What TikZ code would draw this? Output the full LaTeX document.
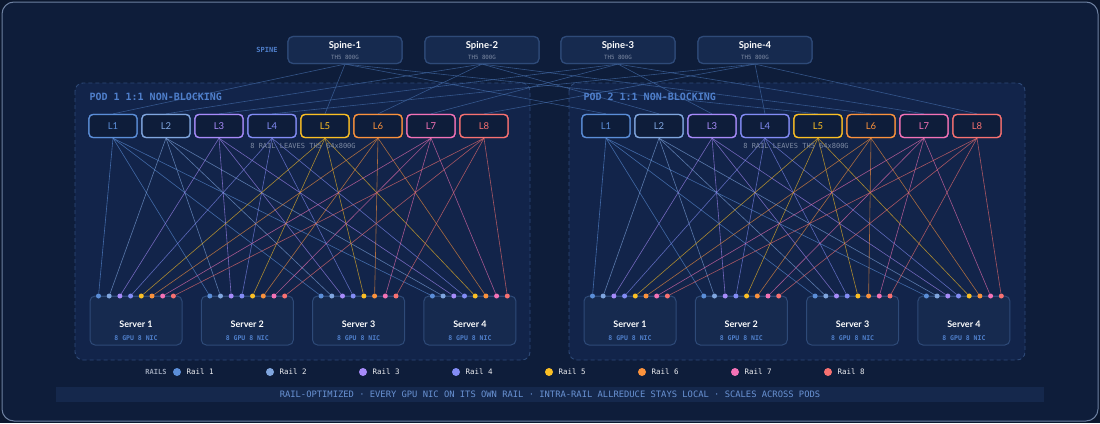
\documentclass[tikz,border=0pt]{standalone}
\usepackage{fontspec}
\setmainfont{Lato}
\newfontfamily\monof{DejaVu Sans Mono}
\begin{document}
\definecolor{bgc}{HTML}{0E1D3A}
\definecolor{podc}{HTML}{12244A}
\definecolor{edgec}{HTML}{2E4A78}
\definecolor{boxc}{HTML}{162A4F}
\definecolor{lblc}{HTML}{4F7FCB}
\definecolor{grayt}{HTML}{7D8AA3}
\definecolor{rA}{HTML}{5B8ED8}
\definecolor{rB}{HTML}{80A6DF}
\definecolor{rC}{HTML}{A78BFA}
\definecolor{rD}{HTML}{838CF5}
\definecolor{rE}{HTML}{FBBF24}
\definecolor{rF}{HTML}{FB923C}
\definecolor{rG}{HTML}{F472B6}
\definecolor{rH}{HTML}{F87171}
\begin{tikzpicture}[x=1pt,y=-1pt,
  spine/.style={draw=edgec,line width=1.2pt,fill=boxc,rounded corners=5pt,minimum width=114pt,minimum height=27pt,inner sep=0pt},
  leaf/.style={line width=1.3pt,fill=bgc,rounded corners=4pt,minimum width=48pt,minimum height=23pt,inner sep=0pt,font=\fontsize{9.5}{10}\selectfont},
  server/.style={draw=edgec,line width=1pt,fill=boxc,rounded corners=5pt,minimum width=92pt,minimum height=49pt,inner sep=0pt},
  pod/.style={draw=edgec,dash pattern=on 4pt off 3pt,line width=0.9pt,fill=podc,rounded corners=8pt},
  nic/.style={circle,inner sep=0pt,minimum size=5pt},
  mono/.style={font=\monof\fontsize{7}{8}\selectfont},
  upl/.style={draw=rA!70!bgc,line width=0.6pt,opacity=0.7},
  rl/.style={line width=0.6pt,opacity=0.65}]
\fill[bgc!80!black] (0,0) rectangle (1100,423);
\draw[fill=bgc,draw=edgec!70,line width=1pt,rounded corners=12pt] (2,2) rectangle (1098,421);
% pods
\draw[pod] (75,83) rectangle (530,360);
\draw[pod] (569,83) rectangle (1025,360);
% spines
\node[mono,text=lblc,font=\monof\bfseries\fontsize{7}{8}\selectfont] (spl) at (267,50) {SPINE};
\foreach \i/\x in {1/345,2/482,3/618,4/755}{
  \node[spine] (s\i) at (\x,50) {};
}
\def\cols{{"rA","rB","rC","rD","rE","rF","rG","rH"}}
\foreach \p/\lx/\sx in {1/113/136,2/606/630}{
  \foreach \k in {1,...,8}{
    \pgfmathsetmacro\c{\cols[\k-1]}
    \node[leaf,draw=\c,text=\c] (p\p l\k) at ({\lx+53*(\k-1)},126) {};
  }
  \foreach \s in {1,...,4}{
    \node[server] (p\p s\s) at ({\sx+111.3*(\s-1)},320.5) {};
    \node[text=white,font=\bfseries\fontsize{9}{10}\selectfont] (p\p sn\s) at ({\sx+111.3*(\s-1)},324) {Server \s};
    \node[mono,text=lblc,font=\monof\bfseries\fontsize{6.5}{7}\selectfont] (p\p st\s) at ({\sx+111.3*(\s-1)},338) {8 GPU 8 NIC};
    \draw[edgec,line width=0.8pt] ({\sx+111.3*(\s-1)-37.5},296) -- ({\sx+111.3*(\s-1)+37.5},296);
    \foreach \k in {1,...,8}{
      \pgfmathsetmacro\c{\cols[\k-1]}
      \node[nic,fill=\c] (p\p d\s n\k) at ({\sx+111.3*(\s-1)-37.5+10.7*(\k-1)},296) {};
    }
  }
}
% links
\foreach \p in {1,2}{
  \foreach \s in {1,...,4}{
    \pgfmathtruncatemacro\m{\s+4}
    \draw[upl] (s\s.south) -- (p\p l\s.north);
    \draw[upl] (s\s.south) -- (p\p l\m.north);
  }
  \foreach \k in {1,...,8}{
    \pgfmathsetmacro\c{\cols[\k-1]}
    \foreach \s in {1,...,4}{
      \draw[rl,draw=\c] (p\p l\k.south) -- (p\p d\s n\k);
    }
  }
}
\node[mono,text=lblc,anchor=west,font=\monof\bfseries\fontsize{10}{11}\selectfont] (pl1) at (86,97) {POD 1 1:1 NON-BLOCKING};
\node[mono,text=lblc,anchor=west,font=\monof\bfseries\fontsize{10}{11}\selectfont] (pl2) at (580,97) {POD 2 1:1 NON-BLOCKING};
% nodes on top of lines
\foreach \p/\lx in {1/113,2/606}{
  \foreach \k in {1,...,8}{
    \pgfmathsetmacro\c{\cols[\k-1]}
    \node[leaf,draw=\c,text=\c] at ({\lx+53*(\k-1)},126) {L\k};
  }
  \node[mono,text=grayt] (lt\p) at ({\lx+190},146) {8 RAIL LEAVES TH5 64x800G};
}
\foreach \i/\x in {1/345,2/482,3/618,4/755}{
  \node[spine] at (\x,50) {};
  \node[text=white,font=\bfseries\fontsize{9.5}{10}\selectfont] (sn\i) at (\x,46) {Spine-\i};
  \node[mono,text=grayt,font=\monof\fontsize{5.8}{6}\selectfont] (st\i) at (\x,57.5) {TH5 800G};
}
% legend
\node[mono,text=grayt!80!white,font=\monof\bfseries\fontsize{7}{8}\selectfont] (rails) at (156,372) {RAILS};
\foreach \k in {1,...,8}{
  \pgfmathsetmacro\c{\cols[\k-1]}
  \node[circle,inner sep=0pt,minimum size=8pt,fill=\c] (lg\k) at ({177+93*(\k-1)},372) {};
  \node[mono,text=white!85!grayt,anchor=west,font=\monof\fontsize{7.5}{8}\selectfont] (lgt\k) at ({183+93*(\k-1)},372) {Rail \k};
}
\fill[boxc!85!bgc] (56,387) rectangle (1044,402);
\node[mono,text=lblc!85!white,font=\monof\fontsize{8.8}{9}\selectfont] (band) at (550,394.5) {RAIL-OPTIMIZED · EVERY GPU NIC ON ITS OWN RAIL · INTRA-RAIL ALLREDUCE STAYS LOCAL · SCALES ACROSS PODS};
\end{tikzpicture}
\end{document}
